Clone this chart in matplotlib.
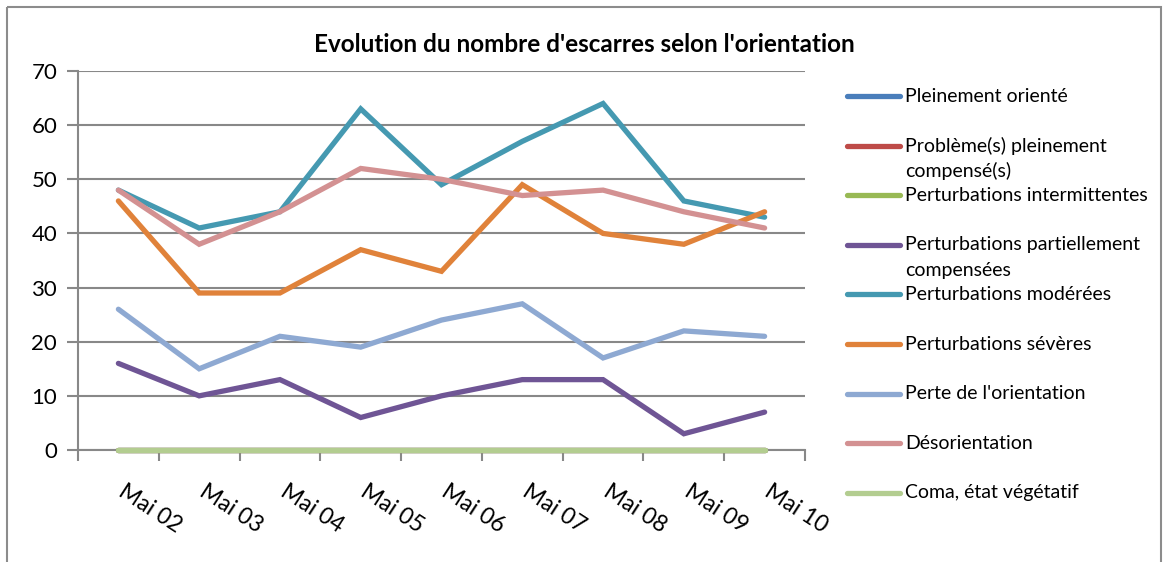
import matplotlib
matplotlib.use("Agg")
import matplotlib.pyplot as plt
from matplotlib.patches import Rectangle
from matplotlib.transforms import ScaledTranslation

plt.rcParams['font.family'] = ['Lato', 'DejaVu Sans']

jours = ["Mai 02", "Mai 03", "Mai 04", "Mai 05", "Mai 06", "Mai 07", "Mai 08", "Mai 09", "Mai 10"]

series_noms = [
    "Pleinement orienté",
    "Problème(s) pleinement\ncompensé(s)",
    "Perturbations intermittentes",
    "Perturbations partiellement\ncompensées",
    "Perturbations modérées",
    "Perturbations sévères",
    "Perte de l'orientation",
    "Désorientation",
    "Coma, état végétatif",
]
pleinement_oriente = [0, 0, 0, 0, 0, 0, 0, 0, 0]
probleme_compense = [0, 0, 0, 0, 0, 0, 0, 0, 0]
pert_intermittentes = [0, 0, 0, 0, 0, 0, 0, 0, 0]
pert_partielles = [16, 10, 13, 6, 10, 13, 13, 3, 7]
pert_moderees = [48, 41, 44, 63, 49, 57, 64, 46, 43]
pert_severes = [46, 29, 29, 37, 33, 49, 40, 38, 44]
perte_orientation = [26, 15, 21, 19, 24, 27, 17, 22, 21]
desorientation = [48, 38, 44, 52, 50, 47, 48, 44, 41]
coma = [0, 0, 0, 0, 0, 0, 0, 0, 0]

valeurs = [pleinement_oriente, probleme_compense, pert_intermittentes, pert_partielles,
           pert_moderees, pert_severes, perte_orientation, desorientation, coma]
couleurs = ["#4A7EBB", "#BE4B48", "#98B954", "#6F5595", "#4599B1",
            "#E0823A", "#8EA9D2", "#D39192", "#B3CD90"]

W, H = 1168, 562
fig = plt.figure(figsize=(W / 100, H / 100), dpi=100)

# cadre du graphique
fond = fig.add_axes([0, 0, 1, 1])
fond.set_xlim(0, W)
fond.set_ylim(H, 0)
fond.axis('off')
fond.add_patch(Rectangle((7, 7), 1154, 600, fill=False, ec="#8C8C8C", lw=1.5, clip_on=False))

ax = fig.add_axes([78 / W, (H - 450) / H, 727 / W, 379 / H])
x = list(range(len(jours)))
for nom, val, c in zip(series_noms, valeurs, couleurs):
    ax.plot(x, val, color=c, lw=3.8, solid_capstyle='round', solid_joinstyle='miter',
            zorder=3, clip_on=False)

ax.set_xlim(-0.5, len(jours) - 0.5)
ax.set_ylim(0, 70)
ax.set_yticks(range(0, 71, 10))
ax.yaxis.grid(True, color="#888888", lw=1.5)
ax.set_axisbelow(True)
for s in ['top', 'right']:
    ax.spines[s].set_visible(False)
for s in ['left', 'bottom']:
    ax.spines[s].set_color("#888888")
    ax.spines[s].set_linewidth(1.5)
ax.tick_params(axis='y', length=8, width=1.5, color="#888888", labelsize=16, pad=7)
ax.set_xticks([i - 0.5 for i in range(len(jours) + 1)], minor=False)
ax.set_xticklabels([])
ax.tick_params(axis='x', which='major', length=8, width=1.5, color="#888888", direction='out')
ax.set_xticks(x, minor=True)
ax.set_xticklabels(jours, minor=True, rotation=-33, ha='left', va='top', rotation_mode='anchor', fontsize=16.5)
ax.tick_params(axis='x', which='minor', length=0, pad=22)
decal = ScaledTranslation(8 / 100, 0, fig.dpi_scale_trans)
for lab in ax.get_xticklabels(minor=True):
    lab.set_transform(lab.get_transform() + decal)

fig.text(584 / W, 1 - 44 / H, "Evolution du nombre d'escarres selon l'orientation",
         ha='center', va='center', fontsize=17.5, fontweight='bold')

# légende
for i, (nom, c) in enumerate(zip(series_noms, couleurs)):
    y = 96 + i * 49.6
    fond.plot([847, 900], [y, y], color=c, lw=3.8, solid_capstyle='round')
    for k, ligne in enumerate(nom.split("\n")):
        fond.text(905, y + k * 25.5, ligne, ha='left', va='center', fontsize=14)

fig.savefig("out.png", dpi=100)
